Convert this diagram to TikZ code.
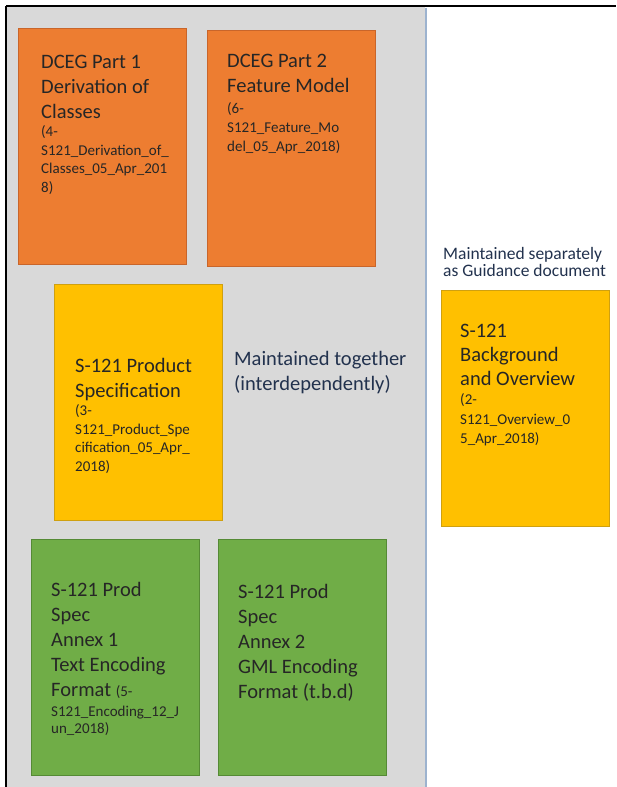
\documentclass[tikz,border=0pt]{standalone}
\usepackage{fontspec}
\setmainfont{Carlito}
\definecolor{grayarea}{HTML}{D9D9D9}
\definecolor{bluish}{HTML}{9DB3CF}
\definecolor{orfill}{HTML}{ED7D31}
\definecolor{ordraw}{HTML}{C9652A}
\definecolor{yefill}{HTML}{FFC000}
\definecolor{yedraw}{HTML}{CFA010}
\definecolor{grfill}{HTML}{70AD47}
\definecolor{grdraw}{HTML}{558A35}
\definecolor{boxtext}{HTML}{262626}
\definecolor{navytext}{HTML}{22324E}
\newcommand{\bigf}{\fontsize{20.5}{25}\selectfont}
\newcommand{\smallf}{\fontsize{15}{18.5}\selectfont}
\tikzset{
  docbox/.style={rectangle, inner sep=0pt, line width=0.8pt, anchor=north west},
  orbox/.style={docbox, fill=orfill, draw=ordraw},
  yebox/.style={docbox, fill=yefill, draw=yedraw},
  grbox/.style={docbox, fill=grfill, draw=grdraw},
  boxlabel/.style={anchor=base west, inner sep=0pt, text=boxtext},
  note/.style={anchor=base west, inner sep=0pt, text=navytext, align=left}
}
\newcommand{\bx}[3]{\parbox[t]{#1}{\raggedright #2\par #3}}
\begin{document}
\begin{tikzpicture}[x=1pt,y=-1pt]
\useasboundingbox (0,0) rectangle (616,787);
\fill[white] (0,0) rectangle (616,787);
% gray area
\fill[grayarea] (7,7) rectangle (425,787);
\draw[bluish, line width=2pt] (425.5,8) -- (425.5,787);
\draw[black, line width=2pt] (6,6) -- (616,6);
\draw[black, line width=2pt] (6,6) -- (6,787);

% boxes
\node[orbox, minimum width=168pt, minimum height=236pt] (p1) at (18,28) {};
\node[orbox, minimum width=168pt, minimum height=236pt] (p2) at (207,30) {};
\node[yebox, minimum width=168pt, minimum height=236pt] (ps) at (54,284) {};
\node[yebox, minimum width=168pt, minimum height=236pt] (bg) at (441,290) {};
\node[grbox, minimum width=168pt, minimum height=236pt] (a1) at (31,539) {};
\node[grbox, minimum width=168pt, minimum height=236pt] (a2) at (218,539) {};

% box texts
\node[boxlabel] (t1) at (41,68) {\bx{150pt}{\bigf DCEG Part 1\\Derivation of\\Classes}{\smallf (4-\\S121\_Derivation\_of\_\\Classes\_05\_Apr\_201\\8)}};
\node[boxlabel] (t2) at (227,67) {\bx{150pt}{\bigf DCEG Part 2\\Feature Model}{\fontsize{15}{21}\selectfont (6-\\[-2pt]S121\_Feature\_Mo\\[-2pt]del\_05\_Apr\_2018)}};
\node[boxlabel] (t3) at (75,372) {\bx{150pt}{\bigf S-121 Product\\Specification}{\smallf (3-\\S121\_Product\_Spe\\cification\_05\_Apr\_\\2018)}};
\node[boxlabel] (t4) at (460,337) {\bx{150pt}{\fontsize{20.5}{24}\selectfont S-121\\Background\\and Overview}{\fontsize{15}{19.5}\selectfont (2-\\S121\_Overview\_0\\5\_Apr\_2018)}};
\node[boxlabel] (t5) at (51,596) {\bx{150pt}{\bigf S-121 Prod\\Spec\\Annex 1\\Text Encoding\\Format {\smallf (5-}}{\fontsize{15}{20}\selectfont S121\_Encoding\_12\_J\\[-3pt]un\_2018)}};
\node[boxlabel] (t6) at (238,598) {\bx{150pt}{\bigf S-121 Prod\\Spec\\Annex 2\\GML Encoding\\Format (t.b.d)}{}};

% notes
\node[note] (n1) at (234,365) {\parbox[t]{190pt}{\bigf Maintained together\\(interdependently)}};
\node[note] (n2) at (443,259) {\parbox[t]{175pt}{\fontsize{17.5}{17.6}\selectfont Maintained separately\\as Guidance document}};
\end{tikzpicture}
\end{document}
